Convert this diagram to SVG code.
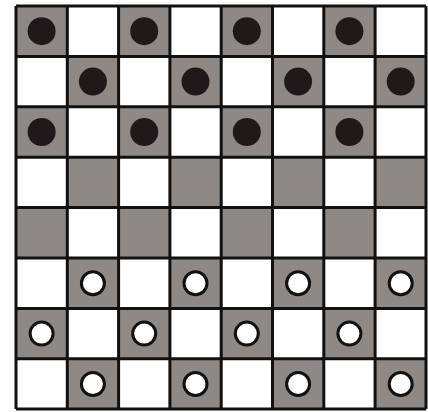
<svg xmlns="http://www.w3.org/2000/svg" width="428" height="412" viewBox="0 0 428 412">
<style>
.d{fill:#8e8984}
.l{fill:#ffffff}
.b{fill:#1e1a1a}
.w{fill:#ffffff;stroke:#111;stroke-width:3}
.g{stroke:#111;stroke-width:3;fill:none}
</style>
<rect width="428" height="412" fill="#fff"/>
<g id="board">
<rect x="16" y="6" width="410" height="403" class="l"/>
<g id="dark-squares">
<rect class="d" x="16" y="6" width="51.3" height="50.4"/>
<rect class="d" x="118.6" y="6" width="51.3" height="50.4"/>
<rect class="d" x="221.2" y="6" width="51.3" height="50.4"/>
<rect class="d" x="323.8" y="6" width="51.3" height="50.4"/>
<rect class="d" x="67.3" y="56.4" width="51.3" height="50.4"/>
<rect class="d" x="169.9" y="56.4" width="51.3" height="50.4"/>
<rect class="d" x="272.5" y="56.4" width="51.3" height="50.4"/>
<rect class="d" x="375.1" y="56.4" width="51.3" height="50.4"/>
<rect class="d" x="16" y="106.8" width="51.3" height="50.4"/>
<rect class="d" x="118.6" y="106.8" width="51.3" height="50.4"/>
<rect class="d" x="221.2" y="106.8" width="51.3" height="50.4"/>
<rect class="d" x="323.8" y="106.8" width="51.3" height="50.4"/>
<rect class="d" x="67.3" y="157.2" width="51.3" height="50.4"/>
<rect class="d" x="169.9" y="157.2" width="51.3" height="50.4"/>
<rect class="d" x="272.5" y="157.2" width="51.3" height="50.4"/>
<rect class="d" x="375.1" y="157.2" width="51.3" height="50.4"/>
<rect class="d" x="16" y="207.6" width="51.3" height="50.4"/>
<rect class="d" x="118.6" y="207.6" width="51.3" height="50.4"/>
<rect class="d" x="221.2" y="207.6" width="51.3" height="50.4"/>
<rect class="d" x="323.8" y="207.6" width="51.3" height="50.4"/>
<rect class="d" x="67.3" y="258" width="51.3" height="50.4"/>
<rect class="d" x="169.9" y="258" width="51.3" height="50.4"/>
<rect class="d" x="272.5" y="258" width="51.3" height="50.4"/>
<rect class="d" x="375.1" y="258" width="51.3" height="50.4"/>
<rect class="d" x="16" y="308.4" width="51.3" height="50.4"/>
<rect class="d" x="118.6" y="308.4" width="51.3" height="50.4"/>
<rect class="d" x="221.2" y="308.4" width="51.3" height="50.4"/>
<rect class="d" x="323.8" y="308.4" width="51.3" height="50.4"/>
<rect class="d" x="67.3" y="358.8" width="51.3" height="50.4"/>
<rect class="d" x="169.9" y="358.8" width="51.3" height="50.4"/>
<rect class="d" x="272.5" y="358.8" width="51.3" height="50.4"/>
<rect class="d" x="375.1" y="358.8" width="51.3" height="50.4"/>
</g>
<g id="grid" class="g">
<path d="M16 6V409M67.3 6V409M118.6 6V409M169.9 6V409M221.2 6V409M272.5 6V409M323.8 6V409M375.1 6V409M426 6V409"/>
<path d="M16 6H426M16 56.4H426M16 106.8H426M16 157.2H426M16 207.6H426M16 258H426M16 308.4H426M16 358.8H426M16 409H426"/>
</g>
</g>
<g id="black-pieces">
<circle class="b" cx="41.6" cy="31.2" r="14"/>
<circle class="b" cx="144.2" cy="31.2" r="14"/>
<circle class="b" cx="246.8" cy="31.2" r="14"/>
<circle class="b" cx="349.4" cy="31.2" r="14"/>
<circle class="b" cx="92.9" cy="81.6" r="14"/>
<circle class="b" cx="195.5" cy="81.6" r="14"/>
<circle class="b" cx="298.1" cy="81.6" r="14"/>
<circle class="b" cx="400.7" cy="81.6" r="14"/>
<circle class="b" cx="41.6" cy="132" r="14"/>
<circle class="b" cx="144.2" cy="132" r="14"/>
<circle class="b" cx="246.8" cy="132" r="14"/>
<circle class="b" cx="349.4" cy="132" r="14"/>
</g>
<g id="white-pieces">
<circle class="w" cx="92.9" cy="283.2" r="11.5"/>
<circle class="w" cx="195.5" cy="283.2" r="11.5"/>
<circle class="w" cx="298.1" cy="283.2" r="11.5"/>
<circle class="w" cx="400.7" cy="283.2" r="11.5"/>
<circle class="w" cx="41.6" cy="333.6" r="11.5"/>
<circle class="w" cx="144.2" cy="333.6" r="11.5"/>
<circle class="w" cx="246.8" cy="333.6" r="11.5"/>
<circle class="w" cx="349.4" cy="333.6" r="11.5"/>
<circle class="w" cx="92.9" cy="384" r="11.5"/>
<circle class="w" cx="195.5" cy="384" r="11.5"/>
<circle class="w" cx="298.1" cy="384" r="11.5"/>
<circle class="w" cx="400.7" cy="384" r="11.5"/>
</g>
</svg>
